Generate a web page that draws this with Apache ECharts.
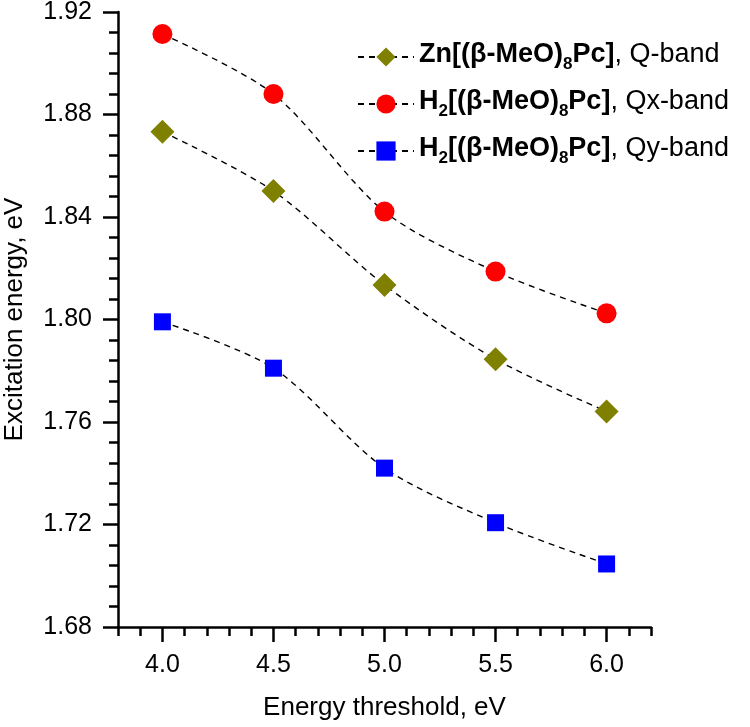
<!DOCTYPE html>
<html>
<head>
<meta charset="utf-8">
<script src="https://cdn.jsdelivr.net/npm/echarts@6/dist/echarts.min.js"></script>
<style>html,body{margin:0;padding:0;background:#fff}#c{width:750px;height:727px}</style>
</head>
<body>
<div id="c"></div>
<script>
var thresholds = [4.0, 4.5, 5.0, 5.5, 6.0];
var znQ = [1.8733, 1.8501, 1.8135, 1.7845, 1.7641];
var h2Qx = [1.9114, 1.8880, 1.8421, 1.8187, 1.8024];
var h2Qy = [1.7991, 1.7810, 1.7420, 1.7207, 1.7046];
var xTickLabels = [4.0, 4.5, 5.0, 5.5, 6.0];
var seriesNames = ['Zn Q', 'H2 Qx', 'H2 Qy'];

function pairs(ys){ return thresholds.map(function(x,i){ return [x, ys[i]]; }); }

var font = 'Liberation Sans, Arial, sans-serif';
var lineStyle = {color:'#000', width:1.4, type:[6,5]};

function mk(name, data, symbol, size, color){
  return {
    name: name, type:'line', data: pairs(data), smooth:0.3,
    symbol: symbol, symbolSize: size, showSymbol:true,
    lineStyle: lineStyle,
    itemStyle: {color: color},
    xAxisIndex:0, yAxisIndex:0, z:3
  };
}

var chart = echarts.init(document.getElementById('c'), null, {renderer:'canvas'});
chart.setOption({
  animation:false,
  backgroundColor:'#fff',
  textStyle:{fontFamily:font},
  grid:{left:118, right:99, top:12, bottom:100, containLabel:false, outerBoundsMode:'none'},
  xAxis:[{
    type:'value', min:3.8, max:6.2, interval:0.1,
    name:'Energy threshold, eV', nameLocation:'middle', nameGap:68,
    nameTextStyle:{fontSize:26, color:'#000', fontFamily:font},
    axisLine:{show:true, onZero:false, lineStyle:{color:'#000', width:2.5}},
    axisTick:{show:true, inside:false, length:9, lineStyle:{color:'#000', width:2.5}},
    axisLabel:{show:true, customValues: xTickLabels, margin:26, fontSize:25, color:'#000', fontFamily:font,
      formatter:function(v){ return v.toFixed(1); }},
    splitLine:{show:false}
  },{
    type:'value', min:3.8, max:6.2, position:'bottom',
    axisLine:{show:false},
    axisTick:{show:true, inside:false, length:15, customValues: xTickLabels, lineStyle:{color:'#000', width:2.5}},
    axisLabel:{show:false},
    splitLine:{show:false}
  }],
  yAxis:[{
    type:'value', min:1.68, max:1.92, interval:0.04,
    name:'Excitation energy, eV', nameLocation:'middle', nameGap:90,
    nameTextStyle:{fontSize:26, color:'#000', fontFamily:font},
    axisLine:{show:true, onZero:false, lineStyle:{color:'#000', width:2.5}},
    axisTick:{show:true, inside:false, length:15, lineStyle:{color:'#000', width:2.5}},
    minorTick:{show:true, splitNumber:5, length:9, lineStyle:{color:'#000', width:2.5}},
    axisLabel:{margin:26, fontSize:25, color:'#000', fontFamily:font,
      formatter:function(v){ return v.toFixed(2); }},
    splitLine:{show:false}
  }],
  legend:{
    orient:'vertical', left:352, top:36, itemWidth:56, itemHeight:24, itemGap:15,
    data: seriesNames,
    formatter:function(n){
      if(n==='Zn Q') return '{b|Zn[(β-MeO)}{s|8}{b|Pc]}{n|, Q-band}';
      if(n==='H2 Qx') return '{b|H}{s|2}{b|[(β-MeO)}{s|8}{b|Pc]}{n|, Qx-band}';
      return '{b|H}{s|2}{b|[(β-MeO)}{s|8}{b|Pc]}{n|, Qy-band}';
    },
    textStyle:{
      color:'#000', fontFamily:font, fontSize:27,
      rich:{
        b:{fontWeight:'bold', fontSize:27, color:'#000', fontFamily:font, lineHeight:32, verticalAlign:'top'},
        n:{fontSize:27, color:'#000', fontFamily:font, lineHeight:32, verticalAlign:'top'},
        s:{fontWeight:'bold', fontSize:17, color:'#000', fontFamily:font, lineHeight:19, verticalAlign:'bottom'}
      }
    }
  },
  series:[
    mk(seriesNames[0], znQ, 'diamond', 24, '#808000'),
    mk(seriesNames[1], h2Qx, 'circle', 20, '#ff0000'),
    mk(seriesNames[2], h2Qy, 'rect', 17, '#0000ff')
  ]
});
</script>
</body>
</html>
